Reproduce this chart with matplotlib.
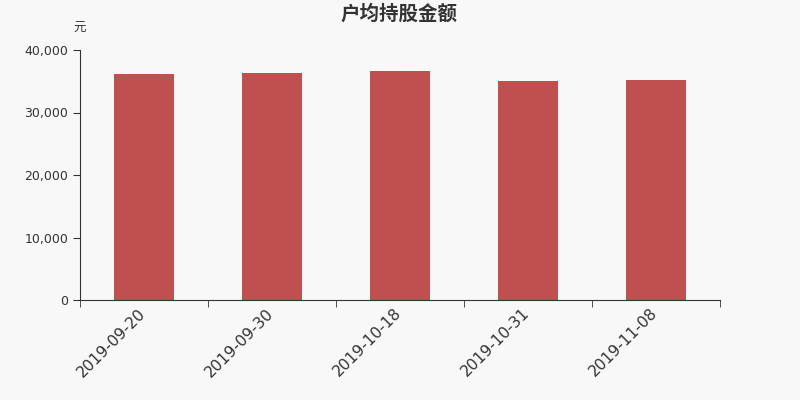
import matplotlib
matplotlib.use("Agg")
import numpy as np
from matplotlib import pyplot as plt
from matplotlib.ticker import FuncFormatter, FixedLocator
from matplotlib.transforms import ScaledTranslation

dates = ["2019-09-20", "2019-09-30", "2019-10-18", "2019-10-31", "2019-11-08"]
amounts = [36100, 36300, 36600, 35000, 35200]

plt.rcParams['font.family'] = ['Noto Sans CJK SC', 'DejaVu Sans']

fig = plt.figure(figsize=(8, 4), dpi=100, facecolor='#f8f8f8')
ax = fig.add_axes([0.1, 0.25, 0.8, 0.625])
ax.set_facecolor('#f8f8f8')

x = np.arange(len(dates))
ax.bar(x, amounts, width=0.47, color='#c0504f')

ax.set_xlim(-0.5, len(dates) - 0.5)
ax.set_ylim(0, 40000)
ax.set_yticks([0, 10000, 20000, 30000, 40000])
ax.yaxis.set_major_formatter(FuncFormatter(lambda v, p: f"{int(v):,}"))

ax.set_xticks(x)
ax.set_xticklabels(dates, rotation=45, ha='right', va='top', fontsize=11.2,
                   rotation_mode='anchor', family='DejaVu Sans')
ax.tick_params(axis='x', which='major', length=0, pad=4, colors='#333333')
ax.xaxis.set_minor_locator(FixedLocator(np.arange(-0.5, len(dates), 1.0)))
ax.tick_params(axis='x', which='minor', length=5, color='#333333')
ax.tick_params(axis='y', length=5, labelsize=9, colors='#333333')
for lbl in ax.get_yticklabels():
    lbl.set_family('DejaVu Sans')
shift = ScaledTranslation(-0.06, 0, fig.dpi_scale_trans)
for lbl in ax.get_xticklabels():
    lbl.set_transform(lbl.get_transform() + shift)

for s in ['top', 'right']:
    ax.spines[s].set_visible(False)
for s in ['left', 'bottom']:
    ax.spines[s].set_color('#333333')

fig.text(0.499, 0.965, "户均持股金额", ha='center', va='center', fontsize=14,
         fontweight='bold', color='#333333')
fig.text(0.1, 0.928, "元", ha='center', va='center', fontsize=9, color='#333333')

fig.savefig("out.png", dpi=100, facecolor=fig.get_facecolor())
